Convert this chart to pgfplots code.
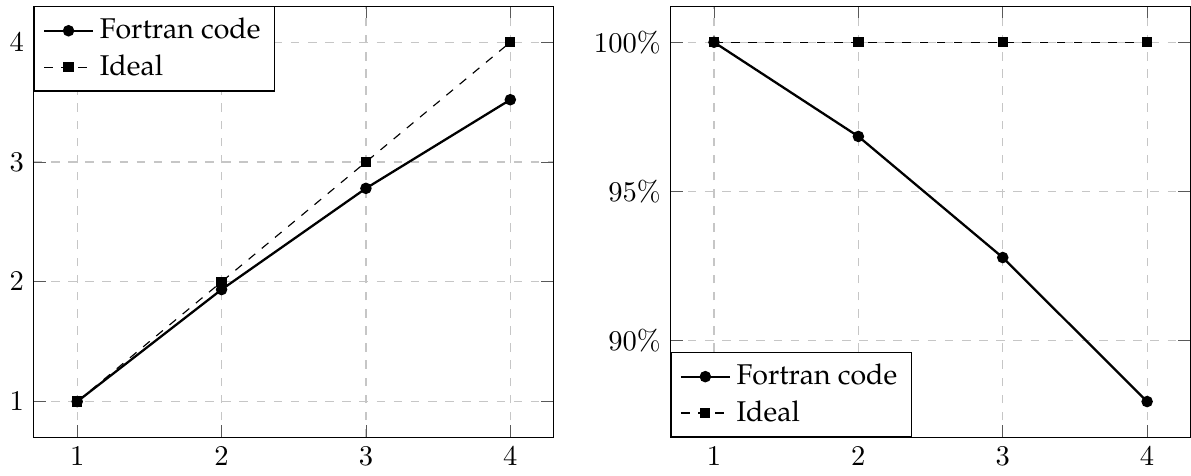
\documentclass[border=0pt]{standalone}
\usepackage[T1,TU]{fontenc}
\usepackage{pgfplots}
\pgfplotsset{compat=1.18}
\newcommand{\legfont}{\fontencoding{T1}\fontfamily{ppl}\selectfont}
\pgfplotsset{
  myaxis/.style={
    scale only axis,
    width=182pt, height=151pt,
    xtick={1,2,3,4},
    grid=major,
    major grid style={dashed, gray!45},
    legend cell align=left,
    legend style={font=\legfont, draw=black},
    tick style={gray!70!black},
  }
}
\begin{document}
\begin{tikzpicture}
\begin{axis}[myaxis,
  ytick={1,2,3,4},
  legend style={at={(0,1)}, anchor=north west},
]
\addplot[black, thick, mark=*, mark size=1.6pt] coordinates {(1,1) (2,1.935) (3,2.78) (4,3.52)};
\addlegendentry{Fortran code}
\addplot[black, dashed, mark=square*, mark size=1.6pt, mark options={solid}] coordinates {(1,1) (2,2) (3,3) (4,4)};
\addlegendentry{Ideal}
\end{axis}
\begin{axis}[myaxis, xshift=223pt,
  ytick={90,95,100},
  yticklabel={$\pgfmathprintnumber{\tick}\%$},
  legend style={at={(0,0)}, anchor=south west},
]
\addplot[black, thick, mark=*, mark size=1.6pt] coordinates {(1,100) (2,96.84) (3,92.78) (4,87.95)};
\addlegendentry{Fortran code}
\addplot[black, dashed, mark=square*, mark size=1.6pt, mark options={solid}] coordinates {(1,100) (2,100) (3,100) (4,100)};
\addlegendentry{Ideal}
\end{axis}
\path (current bounding box.north) ++(0,2pt) coordinate (topext);
\path (topext);
\end{tikzpicture}
\end{document}
